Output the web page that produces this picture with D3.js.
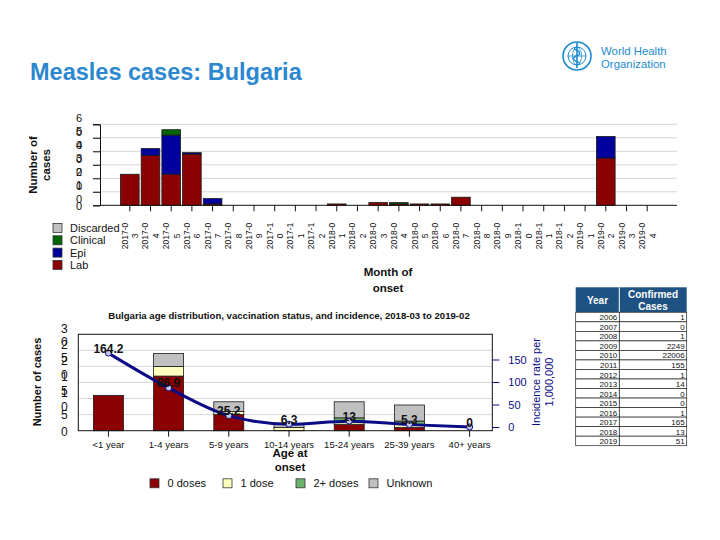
<!DOCTYPE html>
<html>
<head>
<meta charset="utf-8">
<script src="https://cdn.jsdelivr.net/npm/d3@7"></script>
<style>
  body { margin: 0; background: #fff; }
  svg { display: block; font-family: "Liberation Sans", Arial, sans-serif; }
</style>
</head>
<body>
<div id="chart"></div>
<script>
// ---- monthly cases by classification ----
var months = ['2017-03','2017-04','2017-05','2017-06','2017-07','2017-08','2017-09','2017-10','2017-11','2017-12',
              '2018-01','2018-02','2018-03','2018-04','2018-05','2018-06','2018-07','2018-08','2018-09','2018-10',
              '2018-11','2018-12','2019-01','2019-02','2019-03','2019-04'];
var lab       = [23,37,23,38,1,0,0,0,0,0, 1,0,2,1,1,1,6,0,0,0, 0,0,0,35,0,0];
var epi       = [0,5,29,1,4,0,0,0,0,0, 0,0,0,0,0,0,0,0,0,0, 0,0,0,16,0,0];
var clinical  = [0,0,4,0,0,0,0,0,0,0, 0,0,0,1,0,0,0,0,0,0, 0,0,0,0,0,0];
var discarded = [0,0,0,0,0,0,0,0,0,0, 0,0,0,0,0,0,0,0,0,0, 0,0,0,0,0,0];
var topTicks  = [0,10,20,30,40,50,60];

// ---- age distribution 2018-03 to 2019-02 ----
var ages      = ['<1 year','1-4 years','5-9 years','10-14 years','15-24 years','25-39 years','40+ years'];
var dose0     = [11,17,5,0,2,1,0];
var dose1     = [0,3,1,1,1,1,0];
var dose2     = [0,0,0,0,1,1,0];
var unknown   = [0,4,3,1,5,5,0];
var incidence = [164.2,86.9,25.2,6.3,13,5.3,0];
var incLabels = ['164.2','86.9','25.2','6.3','13','5.3','0'];
var ageTicks  = [0,5,10,15,20,25,30];
var incTicks  = [0,50,100,150];

// ---- yearly table ----
var years = ['2006','2007','2008','2009','2010','2011','2012','2013','2014','2015','2016','2017','2018','2019'];
var confirmed = [1,0,1,2249,22006,155,1,14,0,0,1,165,13,51];

var W = 720, H = 540;
var svg = d3.select('#chart').append('svg').attr('width', W).attr('height', H);

// Title
svg.append('text').attr('x', 30).attr('y', 80)
  .attr('font-size', '23.5px').attr('font-weight', 'bold').attr('fill', '#2b88d0')
  .text('Measles cases: Bulgaria');

// WHO logo (simplified emblem + wordmark)
var logo = svg.append('g').attr('transform', 'translate(577,56)')
  .attr('fill', 'none').attr('stroke', '#1a8ad0');
logo.append('circle').attr('r', 14).attr('stroke-width', 1.6);
logo.append('circle').attr('r', 9).attr('stroke-width', 1);
logo.append('ellipse').attr('rx', 4.5).attr('ry', 9).attr('stroke-width', 0.8);
logo.append('line').attr('x1', -9).attr('x2', 9).attr('stroke-width', 0.8);
logo.append('line').attr('y1', -13).attr('y2', 12).attr('stroke-width', 1.6);
logo.append('path').attr('d', 'M-3,-7 C4,-5 4,-1 -1,0 C-5,2 -4,5 3,7').attr('stroke-width', 1.4);
svg.append('text').attr('x', 601).attr('y', 55).attr('font-size', '11.4px').attr('fill', '#1a8ad0').text('World Health');
svg.append('text').attr('x', 601).attr('y', 68).attr('font-size', '11.4px').attr('fill', '#1a8ad0').text('Organization');

// split a tick label into one line per character group (mimics wrapped labels)
function wrapDigits(sel, size, up, down) {
  sel.each(function (d) {
    var t = d3.select(this);
    var s = String(d);
    t.text(null).attr('y', null).attr('dy', null);
    if (s.length === 1) {
      t.append('tspan').attr('x', t.attr('x')).attr('y', size * 0.36).text(s);
    } else {
      t.append('tspan').attr('x', t.attr('x')).attr('y', up + size * 0.36).text(s.slice(0, 1));
      t.append('tspan').attr('x', t.attr('x')).attr('y', down + size * 0.36).text(s.slice(1));
    }
  });
}

// ================= TOP CHART =================
var tx = d3.scaleBand().domain(months).range([100, 677]).paddingInner(0.1).paddingOuter(0.99);
var ty = d3.scaleLinear().domain([0, 60]).range([205.3, 124.3]);

var topColors = { lab: '#8b0000', epi: '#00009c', clinical: '#006400', discarded: '#c0c0c0' };
var topRows = months.map(function (m, i) {
  return { month: m, lab: lab[i], epi: epi[i], clinical: clinical[i], discarded: discarded[i] };
});
var topStack = d3.stack().keys(['lab', 'epi', 'clinical', 'discarded'])(topRows);

// gridlines
svg.append('g').selectAll('line').data(topTicks.slice(1)).join('line')
  .attr('x1', 93).attr('x2', 677)
  .attr('y1', function (d) { return ty(d); }).attr('y2', function (d) { return ty(d); })
  .attr('stroke', '#d6d6d6');

svg.append('g').selectAll('g').data(topStack).join('g')
  .attr('fill', function (d) { return topColors[d.key]; })
  .selectAll('rect').data(function (d) { return d; }).join('rect')
  .attr('x', function (d) { return tx(d.data.month); })
  .attr('width', tx.bandwidth())
  .attr('y', function (d) { return ty(d[1]); })
  .attr('height', function (d) { return ty(d[0]) - ty(d[1]); })
  .attr('stroke', '#1a1a1a').attr('stroke-width', 0.8);

// y axis
var tyAxis = svg.append('g').attr('transform', 'translate(100,0)')
  .call(d3.axisLeft(ty).tickValues(topTicks).tickSize(7).tickPadding(14));
tyAxis.selectAll('text').attr('font-size', '11px').attr('text-anchor', 'middle')
  .attr('font-family', '"Liberation Sans", Arial, sans-serif').attr('fill', '#111').attr('x', -21)
  .call(wrapDigits, 11, -7, 7.2);
tyAxis.select('.domain').attr('stroke', '#111');
tyAxis.selectAll('.tick line').attr('stroke', '#111');

// x axis (ticks only; labels drawn rotated & wrapped)
var txAxis = svg.append('g').attr('transform', 'translate(0,205.3)')
  .call(d3.axisBottom(tx).tickSize(6).tickFormat(''));
txAxis.select('.domain').attr('d', 'M100,0H677').attr('stroke', '#111');
txAxis.selectAll('.tick line').attr('stroke', '#111');

var mLab = svg.append('g').selectAll('g').data(months).join('g')
  .attr('transform', function (d) { return 'translate(' + (tx(d) + tx.bandwidth() / 2) + ',236) rotate(-90)'; })
  .attr('font-size', '8.5px').attr('fill', '#111').attr('text-anchor', 'middle');
mLab.append('text').attr('y', -2).text(function (d) { return d.slice(0, 6); });
mLab.append('text').attr('y', 8.5).text(function (d) { return d.slice(6); });

// axis titles
var yt = svg.append('text').attr('transform', 'translate(0,165) rotate(-90)')
  .attr('text-anchor', 'middle').attr('font-size', '11.5px').attr('font-weight', 'bold').attr('fill', '#111');
yt.append('tspan').attr('x', 0).attr('y', 37).text('Number of');
yt.append('tspan').attr('x', 0).attr('y', 50).text('cases');

svg.append('text').attr('x', 388).attr('y', 276).attr('text-anchor', 'middle')
  .attr('font-size', '11.5px').attr('font-weight', 'bold').attr('fill', '#111').text('Month of');
svg.append('text').attr('x', 388).attr('y', 292).attr('text-anchor', 'middle')
  .attr('font-size', '11.5px').attr('font-weight', 'bold').attr('fill', '#111').text('onset');

// top legend
var topLegend = [['Discarded', 'discarded'], ['Clinical', 'clinical'], ['Epi', 'epi'], ['Lab', 'lab']];
var tl = svg.append('g').selectAll('g').data(topLegend).join('g')
  .attr('transform', function (d, i) { return 'translate(53,' + (228 + i * 12.3) + ')'; });
tl.append('rect').attr('x', 0).attr('y', -4.5).attr('width', 9).attr('height', 9)
  .attr('fill', function (d) { return topColors[d[1]]; }).attr('stroke', '#333').attr('stroke-width', 0.8);
tl.append('text').attr('x', 17).attr('y', 4).attr('font-size', '11px').attr('fill', '#111')
  .text(function (d) { return d[0]; });

// ================= BOTTOM CHART =================
var bx = d3.scaleBand().domain(ages).range([78.3, 499.7]);
var by = d3.scaleLinear().domain([0, 30]).range([430.7, 334.3]);
var by2 = d3.scaleLinear().domain([-8.2, 206]).range([430.7, 334.3]);
var plotL = 78.3, plotR = 492.3;

svg.append('text').attr('x', 289).attr('y', 319).attr('text-anchor', 'middle')
  .attr('font-size', '9.6px').attr('font-weight', 'bold').attr('fill', '#111')
  .text('Bulgaria age distribution, vaccination status, and incidence, 2018-03 to 2019-02');

svg.append('g').selectAll('line').data(ageTicks.slice(1, -1)).join('line')
  .attr('x1', plotL).attr('x2', plotR)
  .attr('y1', function (d) { return by(d); }).attr('y2', function (d) { return by(d); })
  .attr('stroke', '#d6d6d6');

var doseColors = { d0: '#8b0000', d1: '#ffffc0', d2: '#6db36d', unk: '#c0c0c0' };
var ageRows = ages.map(function (a, i) {
  return { age: a, d0: dose0[i], d1: dose1[i], d2: dose2[i], unk: unknown[i] };
});
var ageStack = d3.stack().keys(['d0', 'd1', 'd2', 'unk'])(ageRows);

svg.append('g').selectAll('g').data(ageStack).join('g')
  .attr('fill', function (d) { return doseColors[d.key]; })
  .selectAll('rect').data(function (d) { return d.filter(function (v) { return v[1] > v[0]; }); }).join('rect')
  .attr('x', function (d) { return bx(d.data.age) + bx.bandwidth() / 2 - 15; })
  .attr('width', 30)
  .attr('y', function (d) { return by(d[1]); })
  .attr('height', function (d) { return by(d[0]) - by(d[1]); })
  .attr('stroke', '#1a1a1a').attr('stroke-width', 0.8);

// frame
svg.append('rect').attr('x', plotL).attr('y', by(30)).attr('width', plotR - plotL).attr('height', by(0) - by(30))
  .attr('fill', 'none').attr('stroke', '#111');

// left axis
var byAxis = svg.append('g').attr('transform', 'translate(' + plotL + ',0)')
  .call(d3.axisLeft(by).tickValues(ageTicks).tickSize(0).tickPadding(14));
byAxis.select('.domain').remove();
byAxis.selectAll('text').attr('font-size', '12px').attr('text-anchor', 'middle')
  .attr('font-family', '"Liberation Sans", Arial, sans-serif').attr('fill', '#111').attr('x', -14)
  .call(wrapDigits, 12, -6.5, 7.3);

// right axis
var navy = '#0c0c86';
var by2Axis = svg.append('g').attr('transform', 'translate(' + plotR + ',0)')
  .call(d3.axisRight(by2).tickValues(incTicks).tickSize(7).tickPadding(9));
by2Axis.select('.domain').remove();
by2Axis.selectAll('.tick line').attr('stroke', navy);
by2Axis.selectAll('text').attr('font-size', '11px').attr('fill', navy)
  .attr('font-family', '"Liberation Sans", Arial, sans-serif');

// bottom axis
var bxAxis = svg.append('g').attr('transform', 'translate(0,' + by(0) + ')')
  .call(d3.axisBottom(bx).tickSize(6).tickPadding(5));
bxAxis.select('.domain').remove();
bxAxis.selectAll('.tick line').attr('stroke', '#111');
bxAxis.selectAll('text').attr('font-size', '9.5px').attr('fill', '#111')
  .attr('font-family', '"Liberation Sans", Arial, sans-serif');

// incidence line
var incPts = ages.map(function (a, i) { return { age: a, v: incidence[i], label: incLabels[i] }; });
var line = d3.line()
  .x(function (d) { return bx(d.age) + bx.bandwidth() / 2; })
  .y(function (d) { return by2(d.v); })
  .curve(d3.curveMonotoneX);
svg.append('path').datum(incPts).attr('d', line)
  .attr('fill', 'none').attr('stroke', navy).attr('stroke-width', 3);
svg.append('g').selectAll('circle').data(incPts).join('circle')
  .attr('cx', function (d) { return bx(d.age) + bx.bandwidth() / 2; })
  .attr('cy', function (d) { return by2(d.v); })
  .attr('r', 3).attr('fill', '#c8c8e8').attr('stroke', navy).attr('stroke-width', 1);
svg.append('g').selectAll('text').data(incPts).join('text')
  .attr('x', function (d) { return bx(d.age) + bx.bandwidth() / 2; })
  .attr('y', function (d) { return by2(d.v) - 0.5; })
  .attr('text-anchor', 'middle').attr('font-size', '12px').attr('font-weight', 'bold').attr('fill', '#111')
  .text(function (d) { return d.label; });

// axis titles
svg.append('text').attr('transform', 'translate(41,382) rotate(-90)').attr('text-anchor', 'middle')
  .attr('font-size', '11px').attr('font-weight', 'bold').attr('fill', '#111').text('Number of cases');
var rt = svg.append('text').attr('transform', 'translate(0,382) rotate(-90)')
  .attr('text-anchor', 'middle').attr('font-size', '11px').attr('fill', navy);
rt.append('tspan').attr('x', 0).attr('y', 540).text('Incidence rate per');
rt.append('tspan').attr('x', 0).attr('y', 553).text('1,000,000');

svg.append('text').attr('x', 290).attr('y', 457).attr('text-anchor', 'middle')
  .attr('font-size', '11.5px').attr('font-weight', 'bold').attr('fill', '#111').text('Age at');
svg.append('text').attr('x', 290).attr('y', 471).attr('text-anchor', 'middle')
  .attr('font-size', '11.5px').attr('font-weight', 'bold').attr('fill', '#111').text('onset');

// bottom legend
var botLegend = [['0 doses', 'd0', 150], ['1 dose', 'd1', 223], ['2+ doses', 'd2', 296], ['Unknown', 'unk', 369]];
var bl = svg.append('g').selectAll('g').data(botLegend).join('g')
  .attr('transform', function (d) { return 'translate(' + d[2] + ',483.3)'; });
bl.append('rect').attr('x', 0).attr('y', -4.5).attr('width', 9).attr('height', 9)
  .attr('fill', function (d) { return doseColors[d[1]]; }).attr('stroke', '#333').attr('stroke-width', 0.8);
bl.append('text').attr('x', 17.5).attr('y', 4).attr('font-size', '11px').attr('fill', '#111')
  .text(function (d) { return d[0]; });

// ================= TABLE =================
var tL = 575.7, tM = 619.3, tR = 686.7, tTop = 287.3, tHead = 312.3;
var ry = d3.scaleBand().domain(years).range([tHead, 445.7]);
svg.append('rect').attr('x', tL).attr('y', tTop).attr('width', tR - tL).attr('height', tHead - tTop)
  .attr('fill', '#1d5282');
svg.append('line').attr('x1', tM).attr('x2', tM).attr('y1', tTop).attr('y2', tHead).attr('stroke', '#fff');
svg.append('text').attr('x', (tL + tM) / 2).attr('y', 303.5).attr('text-anchor', 'middle')
  .attr('font-size', '10px').attr('font-weight', 'bold').attr('fill', '#fff').text('Year');
svg.append('text').attr('x', (tM + tR) / 2).attr('y', 298).attr('text-anchor', 'middle')
  .attr('font-size', '10px').attr('font-weight', 'bold').attr('fill', '#fff').text('Confirmed');
svg.append('text').attr('x', (tM + tR) / 2).attr('y', 309.5).attr('text-anchor', 'middle')
  .attr('font-size', '10px').attr('font-weight', 'bold').attr('fill', '#fff').text('Cases');

var rows = svg.append('g').selectAll('g').data(years).join('g');
rows.append('rect').attr('x', tL).attr('y', function (d) { return ry(d); })
  .attr('width', tM - tL).attr('height', ry.bandwidth()).attr('fill', '#fff').attr('stroke', '#222').attr('stroke-width', 0.7);
rows.append('rect').attr('x', tM).attr('y', function (d) { return ry(d); })
  .attr('width', tR - tM).attr('height', ry.bandwidth()).attr('fill', '#fff').attr('stroke', '#222').attr('stroke-width', 0.7);
rows.append('text').attr('x', tM - 2).attr('y', function (d) { return ry(d) + ry.bandwidth() - 1.5; })
  .attr('text-anchor', 'end').attr('font-size', '8px').attr('fill', '#111').text(function (d) { return d; });
rows.append('text').attr('x', tR - 2).attr('y', function (d) { return ry(d) + ry.bandwidth() - 1.5; })
  .attr('text-anchor', 'end').attr('font-size', '8px').attr('fill', '#111')
  .text(function (d, i) { return confirmed[i]; });
</script>
</body>
</html>
